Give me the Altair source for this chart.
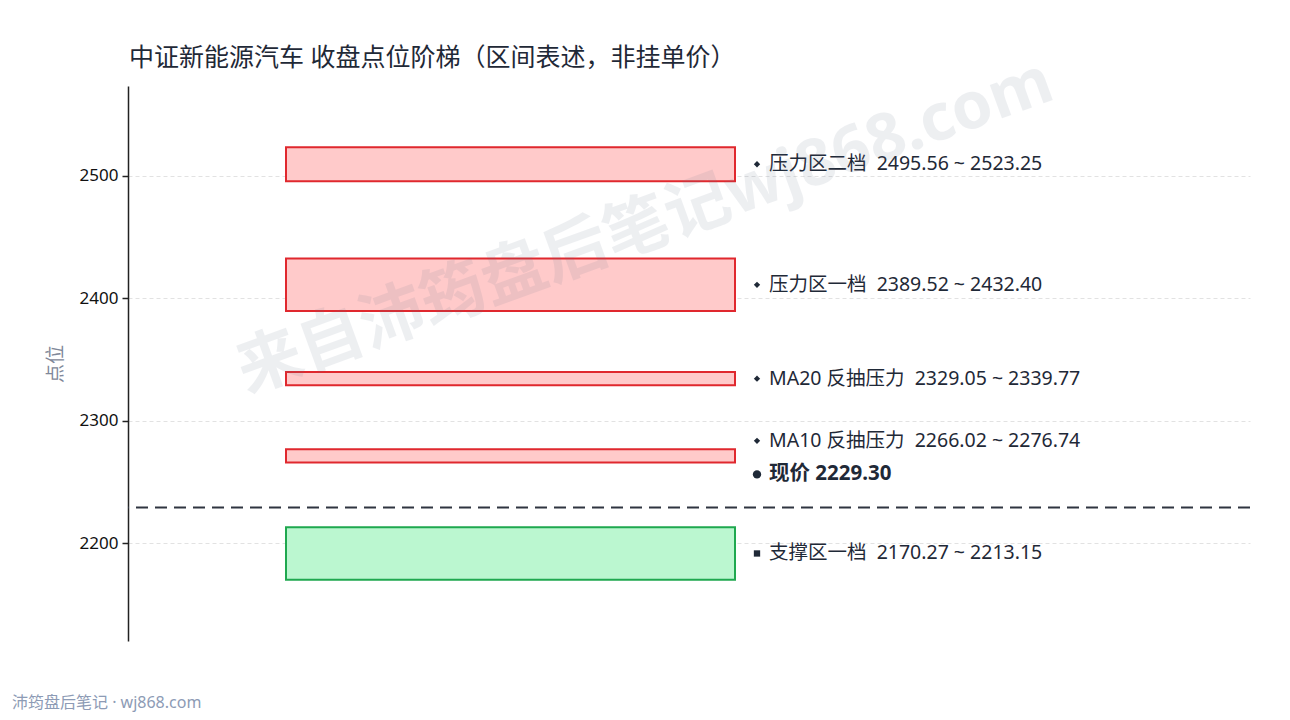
import altair as alt
import pandas as pd

# ---- data ----
names = ["压力区二档", "压力区一档", "MA20 反抽压力", "MA10 反抽压力", "支撑区一档"]
lows = [2495.56, 2389.52, 2329.05, 2266.02, 2170.27]
highs = [2523.25, 2432.40, 2339.77, 2276.74, 2213.15]
kinds = ["压力", "压力", "压力", "压力", "支撑"]
marker_shapes = ["diamond", "diamond", "diamond", "diamond", "square"]
shifted = [False, False, False, True, False]
current_price = 2229.30
y_ticks = [2200, 2300, 2400, 2500]
y_domain = [2120.27, 2573.25]

title_text = "中证新能源汽车 收盘点位阶梯（区间表述，非挂单价）"
footer_text = "沛筠盘后笔记 · wj868.com"
watermark_text = "来自沛筠盘后笔记wj868.com"

NB = "\u00a0"
rows = []
for n, lo, hi, k, m, s in zip(names, lows, highs, kinds, marker_shapes, shifted):
    rows.append({
        "name": n, "low": lo, "high": hi, "mid": (lo + hi) / 2, "kind": k,
        "shape": m, "label": f"{n}{NB}{NB}{lo:.2f} ~ {hi:.2f}", "shifted": s,
    })
df = pd.DataFrame(rows)
cur_df = pd.DataFrame({"price": [current_price],
                       "label": [f"现价 {current_price:.2f}"]})

FONT = "Noto Sans, Noto Sans CJK SC, sans-serif"
W, H = 1122, 555
TXT = "#1f2937"

yscale = alt.Scale(domain=y_domain, nice=False, zero=False)

base = alt.Chart(df)

bars = base.mark_rect(strokeWidth=2).encode(
    x=alt.value(158), x2=alt.value(607),
    y=alt.Y("low:Q", scale=yscale,
            axis=alt.Axis(values=y_ticks, title="点位", grid=True, format="d",
                          gridDash=[4, 3], gridColor="#e2e2e2",
                          domainColor="#222222", domainWidth=1.5,
                          tickColor="#222222", tickSize=6, tickWidth=1.5,
                          labelFontSize=17, labelColor="#111111",
                          labelFont=FONT, labelPadding=4,
                          titleFont=FONT, titleFontSize=19,
                          titleColor="#7f8899", titleFontWeight="normal",
                          titlePadding=14)),
    y2="high:Q",
    fill=alt.Fill("kind:N", scale=alt.Scale(domain=["压力", "支撑"],
                                            range=["#ffcaca", "#bbf7d0"]),
                  legend=None),
    stroke=alt.Stroke("kind:N", scale=alt.Scale(domain=["压力", "支撑"],
                                                range=["#e0282e", "#1fa84f"]),
                      legend=None),
)

LX = 641  # text start (plot px)
MX = 629  # marker centre (plot px)
LFS = 19.5

labels = base.transform_filter("!datum.shifted").mark_text(
    align="left", baseline="middle", font=FONT, fontSize=LFS, color=TXT
).encode(x=alt.value(LX), y=alt.Y("mid:Q", scale=yscale), text="label:N")

labels_shift = base.transform_filter("datum.shifted").mark_text(
    align="left", baseline="middle", font=FONT, fontSize=LFS, color=TXT, dy=-15
).encode(x=alt.value(LX), y=alt.Y("mid:Q", scale=yscale), text="label:N")

marks = base.transform_filter("!datum.shifted").mark_point(
    filled=True, size=40, color=TXT, opacity=1
).encode(x=alt.value(MX), y=alt.Y("mid:Q", scale=yscale),
         shape=alt.Shape("shape:N", scale=None))

marks_shift = base.transform_filter("datum.shifted").mark_point(
    filled=True, size=40, color=TXT, opacity=1, yOffset=-15
).encode(x=alt.value(MX), y=alt.Y("mid:Q", scale=yscale),
         shape=alt.Shape("shape:N", scale=None))

cur_rule = alt.Chart(cur_df).mark_rule(
    color="#2f3540", strokeWidth=2, strokeDash=[12, 7]
).encode(y=alt.Y("price:Q", scale=yscale))

cur_label = alt.Chart(cur_df).mark_text(
    align="left", baseline="middle", font=FONT, fontSize=20.5,
    fontWeight="bold", color=TXT, dy=-33
).encode(x=alt.value(LX), y=alt.Y("price:Q", scale=yscale), text="label:N")

cur_mark = alt.Chart(cur_df).mark_point(
    filled=True, size=70, color=TXT, opacity=1, shape="circle", yOffset=-33
).encode(x=alt.value(MX), y=alt.Y("price:Q", scale=yscale))

wm = alt.Chart(pd.DataFrame({"t": [watermark_text]})).mark_text(
    angle=340, font=FONT, fontSize=65, fontWeight="bold",
    color="#64748b", opacity=0.11, align="center", baseline="middle"
).encode(x=alt.value(517), y=alt.value(141), text="t:N")

title = alt.Chart(pd.DataFrame({"t": [title_text]})).mark_text(
    align="left", baseline="middle", font=FONT, fontSize=25, color=TXT
).encode(x=alt.value(1), y=alt.value(-28), text="t:N")

footer = alt.Chart(pd.DataFrame({"t": [footer_text]})).mark_text(
    align="left", baseline="middle", font=FONT, fontSize=16, color="#8d9bb5"
).encode(x=alt.value(-116), y=alt.value(617), text="t:N")

chart = alt.layer(
    bars, cur_rule, labels, labels_shift, marks, marks_shift,
    cur_label, cur_mark, wm, title, footer
).properties(
    width=W, height=H,
    background="white",
    autosize=alt.AutoSizeParams(type="none"),
    padding={"left": 120, "top": 78, "right": 32, "bottom": 71},
).configure_view(strokeWidth=0, stroke=None)

chart.save("out.html", embed_options={"renderer": "svg", "actions": False})
